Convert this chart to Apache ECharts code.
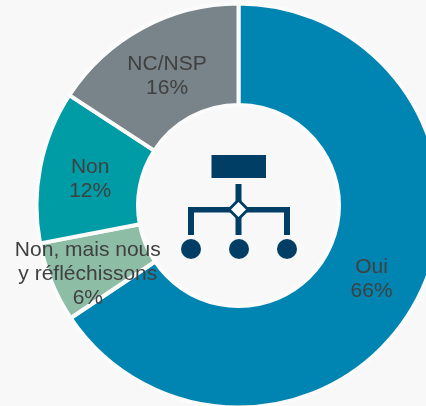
<!DOCTYPE html>
<html>
<head>
<meta charset="utf-8">
<style>
html, body { margin: 0; padding: 0; background: #f8f8f8; }
#chart { width: 426px; height: 406px; }
</style>
<script src="https://cdn.jsdelivr.net/npm/echarts@6/dist/echarts.min.js"></script>
</head>
<body>
<div id="chart"></div>
<script>
var categories = ['Oui', 'Non, mais nous\ny réfléchissons', 'Non', 'NC/NSP'];
var values = [65.6, 6.4, 12.2, 15.8];
var colors = ['#0085b2', '#8dbda5', '#009ca6', '#78838a'];

var iconColor = '#003e66';
var cx = 238.5, cy = 205.5;
// small shifts from the default inside position
var labelNudge = [[-3, 1], [-8, 10], [3, 4], [2, 6]];

var myChart = echarts.init(document.getElementById('chart'));

function line(x, y, w, h) {
	return { type: 'rect', shape: { x: x, y: y, width: w, height: h }, style: { fill: iconColor } };
}
function dot(x) {
	return { type: 'circle', shape: { cx: x, cy: 249, r: 10 }, style: { fill: iconColor } };
}

myChart.setOption({
	backgroundColor: '#f8f8f8',
	animation: false,
	series: [{
		type: 'pie',
		center: [cx, cy],
		radius: [100.5, 202],
		startAngle: 90,
		clockwise: true,
		avoidLabelOverlap: false,
		itemStyle: { borderColor: '#fbfbfb', borderWidth: 4 },
		label: {
			show: true,
			position: 'inside',
			formatter: function(params) {
				return params.name + '\n' + Math.round(params.value) + '%';
			},
			fontFamily: 'Liberation Sans',
			fontSize: 21,
			lineHeight: 24,
			color: '#404040'
		},
		labelLine: { show: false },
		labelLayout: function(params) {
			var n = labelNudge[params.dataIndex];
			return { dx: n[0], dy: n[1] };
		},
		data: categories.map(function(name, i) {
			return { name: name, value: values[i], itemStyle: { color: colors[i] } };
		})
	}],
	graphic: [
		line(211.5, 155, 54.5, 23),
		line(235.5, 184, 6, 20),
		line(188, 207, 101, 5.5),
		line(188, 207, 6, 28),
		line(284, 207, 6, 28),
		line(235.5, 216, 6, 19),
		{
			type: 'polygon',
			shape: { points: [[238.5, 198], [250, 209.5], [238.5, 221], [227, 209.5]] },
			style: { fill: iconColor }
		},
		{
			type: 'polygon',
			shape: { points: [[238.5, 202], [246, 209.5], [238.5, 217], [231, 209.5]] },
			style: { fill: '#ffffff' }
		},
		dot(191),
		dot(239),
		dot(287)
	]
});
</script>
</body>
</html>
